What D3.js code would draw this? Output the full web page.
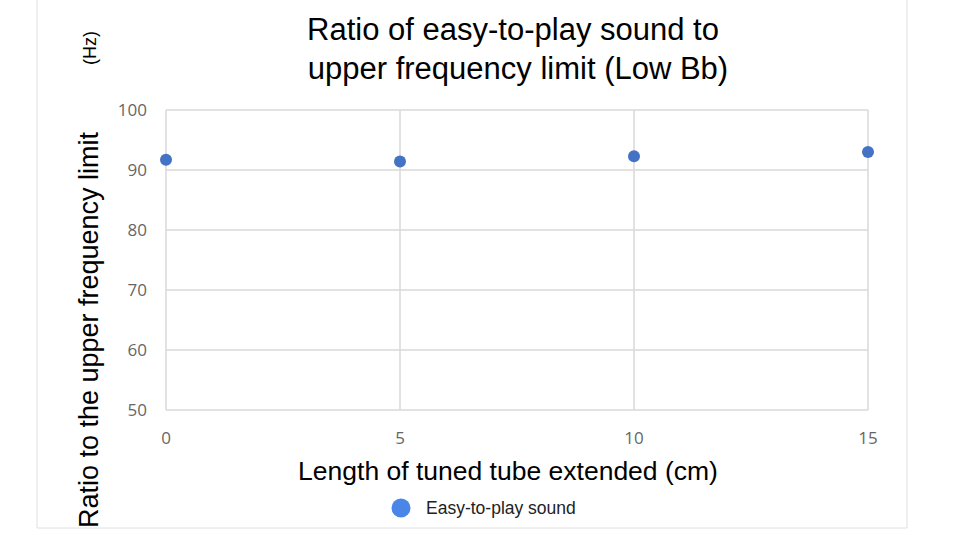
<!DOCTYPE html>
<html><head><meta charset="utf-8">
<script src="https://cdn.jsdelivr.net/npm/d3@7"></script>
<style>body{margin:0;background:#fff}</style>
</head><body>
<script>
var lengths = [0, 5, 10, 15];
var ratios = [91.7, 91.4, 92.3, 93.0];
var xTicks = [0, 5, 10, 15];
var yTicks = [50, 60, 70, 80, 90, 100];

var svg = d3.select("body").append("svg").attr("width", 960).attr("height", 540);

// faint frame
svg.append("path").attr("d", "M37,0V528H907V0").attr("fill", "none").attr("stroke", "#e0e0e0");

var x = d3.scaleLinear().domain([0, 15]).range([166, 868]);
var y = d3.scaleLinear().domain([50, 100]).range([410, 110]);

svg.selectAll(".hg").data(yTicks).enter().append("line")
  .attr("x1", 166).attr("x2", 868)
  .attr("y1", function(d){ return y(d); }).attr("y2", function(d){ return y(d); })
  .attr("stroke", "#d9d9d9").attr("stroke-width", 1.5);
svg.selectAll(".vg").data(xTicks).enter().append("line")
  .attr("y1", 110).attr("y2", 410)
  .attr("x1", function(d){ return x(d); }).attr("x2", function(d){ return x(d); })
  .attr("stroke", "#d9d9d9").attr("stroke-width", 1.5);

svg.selectAll(".yl").data(yTicks).enter().append("text")
  .attr("x", 147).attr("y", function(d){ return y(d) + 6; })
  .attr("text-anchor", "end").attr("font-family", "Open Sans").attr("font-size", 17).attr("fill", "#666")
  .text(function(d){ return d; });
svg.selectAll(".xl").data(xTicks).enter().append("text")
  .attr("x", function(d){ return x(d); }).attr("y", 444)
  .attr("text-anchor", "middle").attr("font-family", "Open Sans").attr("font-size", 17).attr("fill", "#666")
  .text(function(d){ return d; });

svg.selectAll(".pt").data(lengths).enter().append("circle")
  .attr("cx", function(d){ return x(d); })
  .attr("cy", function(d, i){ return y(ratios[i]); })
  .attr("r", 6).attr("fill", "#4472c4");

svg.append("text").attr("x", 513).attr("y", 40).attr("text-anchor", "middle")
  .attr("font-family", "Liberation Sans").attr("font-size", 31).text("Ratio of easy-to-play sound to");
svg.append("text").attr("x", 518).attr("y", 79).attr("text-anchor", "middle")
  .attr("font-family", "Liberation Sans").attr("font-size", 31).text("upper frequency limit (Low Bb)");

svg.append("text").attr("x", 508).attr("y", 480).attr("text-anchor", "middle")
  .attr("font-family", "Liberation Sans").attr("font-size", 26.5).text("Length of tuned tube extended (cm)");

svg.append("text").attr("transform", "translate(98,330) rotate(-90)").attr("text-anchor", "middle")
  .attr("font-family", "Liberation Sans").attr("font-size", 27)
  .text("Ratio to the upper frequency limit");
svg.append("text").attr("transform", "translate(96,48) rotate(-90)").attr("text-anchor", "middle")
  .attr("font-family", "Liberation Sans").attr("font-size", 18).text("(Hz)");

svg.append("circle").attr("cx", 401).attr("cy", 508).attr("r", 9.5).attr("fill", "#4a86e8");
svg.append("text").attr("x", 426).attr("y", 514).attr("font-family", "Liberation Sans").attr("font-size", 17.5)
  .attr("fill", "#222").text("Easy-to-play sound");
</script>
</body></html>
